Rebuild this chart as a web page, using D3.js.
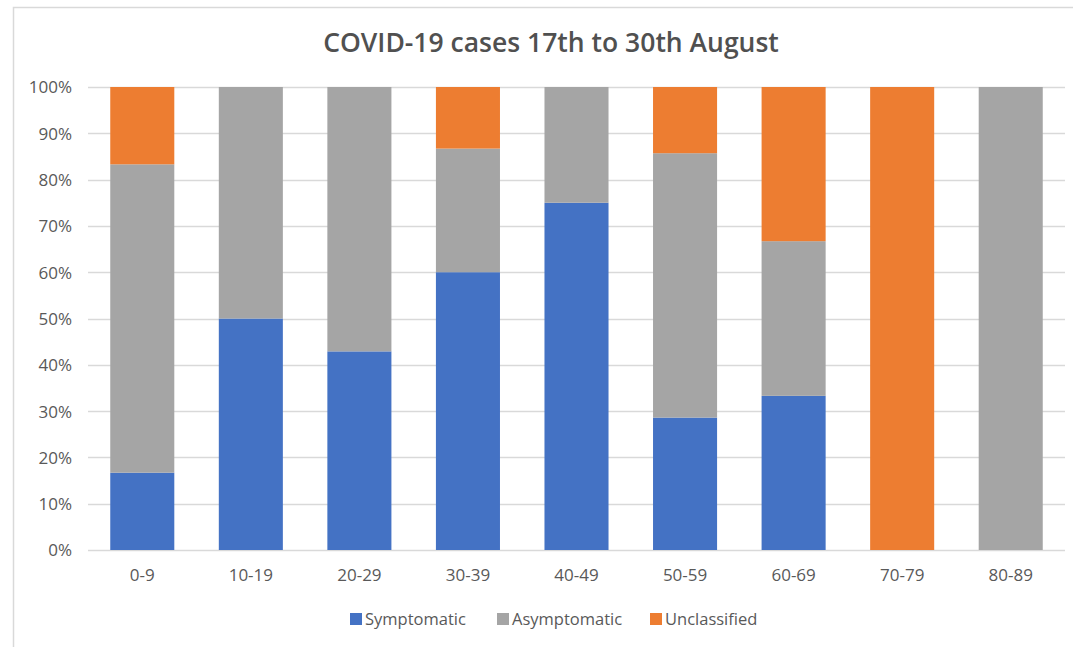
<!DOCTYPE html>
<html>
<head>
<meta charset="utf-8">
<script src="https://cdn.jsdelivr.net/npm/d3@7"></script>
<style>
  html, body { margin: 0; padding: 0; background: #fff; }
  svg { display: block; }
  text { font-family: "Open Sans", "Liberation Sans", sans-serif; }
</style>
</head>
<body>
<svg id="chart" width="1073" height="647"></svg>
<script>
const categories = ["0-9", "10-19", "20-29", "30-39", "40-49", "50-59", "60-69", "70-79", "80-89"];
const symptomatic  = [16.7, 50, 42.9, 60, 75, 28.6, 33.3, 0, 0];
const asymptomatic = [66.6, 50, 57.1, 26.7, 25, 57.1, 33.4, 0, 100];
const unclassified = [16.7, 0, 0, 13.3, 0, 14.3, 33.3, 100, 0];
const seriesNames = ["Symptomatic", "Asymptomatic", "Unclassified"];
const seriesColors = ["#4472C4", "#A5A5A5", "#ED7D31"];
const yTicks = [0, 10, 20, 30, 40, 50, 60, 70, 80, 90, 100];
const titleText = "COVID-19 cases 17th to 30th August";

const W = 1073, H = 647;
const svg = d3.select("#chart");
const plot = { left: 88, right: 1065, top: 87, bottom: 550 };

// chart frame
svg.append("rect").attr("x", 13.5).attr("y", 7.5).attr("width", W).attr("height", H)
  .attr("fill", "#fff").attr("stroke", "#d9d9d9").attr("stroke-width", 1.5);

const x = d3.scaleBand().domain(categories).range([plot.left, plot.right]).paddingInner(0.41).paddingOuter(0.205);
const y = d3.scaleLinear().domain([0, 100]).range([plot.bottom, plot.top]);

// gridlines
svg.append("g").selectAll("line").data(yTicks).join("line")
  .attr("x1", plot.left).attr("x2", plot.right)
  .attr("y1", d => Math.round(y(d)) + 0.5).attr("y2", d => Math.round(y(d)) + 0.5)
  .attr("stroke", "#d9d9d9").attr("stroke-width", 1.5);

// y axis labels
const yAxis = d3.axisLeft(y).tickValues(yTicks).tickFormat(d => d + "%").tickSize(0).tickPadding(0);
const gy = svg.append("g").attr("transform", `translate(72,0)`).call(yAxis);
gy.select(".domain").remove();
gy.selectAll("text").attr("fill", "#595959").style("font-size", "17px").attr("dy", "0.35em");

// stacked data
const rows = categories.map((c, i) => ({ cat: c, Symptomatic: symptomatic[i], Asymptomatic: asymptomatic[i], Unclassified: unclassified[i] }));
const stack = d3.stack().keys(seriesNames)(rows);

svg.append("g").selectAll("g").data(stack).join("g")
  .attr("fill", (d, i) => seriesColors[i])
  .selectAll("rect").data(d => d).join("rect")
  .attr("x", d => x(d.data.cat))
  .attr("width", x.bandwidth())
  .attr("y", d => y(d[1]))
  .attr("height", d => y(d[0]) - y(d[1]));

// x axis labels
const xAxis = d3.axisBottom(x).tickSize(0).tickPadding(0);
const gx = svg.append("g").attr("transform", `translate(0,${plot.bottom + 25})`).call(xAxis);
gx.select(".domain").remove();
gx.selectAll("text").attr("fill", "#595959").style("font-size", "17px").attr("dy", "0.35em").attr("y", 0);

// title
svg.append("text").attr("x", 551).attr("y", 43).attr("dy", "0.35em")
  .attr("text-anchor", "middle").attr("fill", "#505050")
  .style("font-size", "26.5px").style("font-weight", "600").text(titleText);

// legend
const legendX = [350, 497, 650];
const lg = svg.append("g").selectAll("g").data(seriesNames).join("g")
  .attr("transform", (d, i) => `translate(${legendX[i]},619)`);
lg.append("rect").attr("x", 0).attr("y", -6).attr("width", 12).attr("height", 12)
  .attr("fill", (d, i) => seriesColors[i]);
lg.append("text").attr("x", 15).attr("y", 0).attr("dy", "0.35em")
  .attr("fill", "#595959").style("font-size", "16.5px").text(d => d);
</script>
</body>
</html>
